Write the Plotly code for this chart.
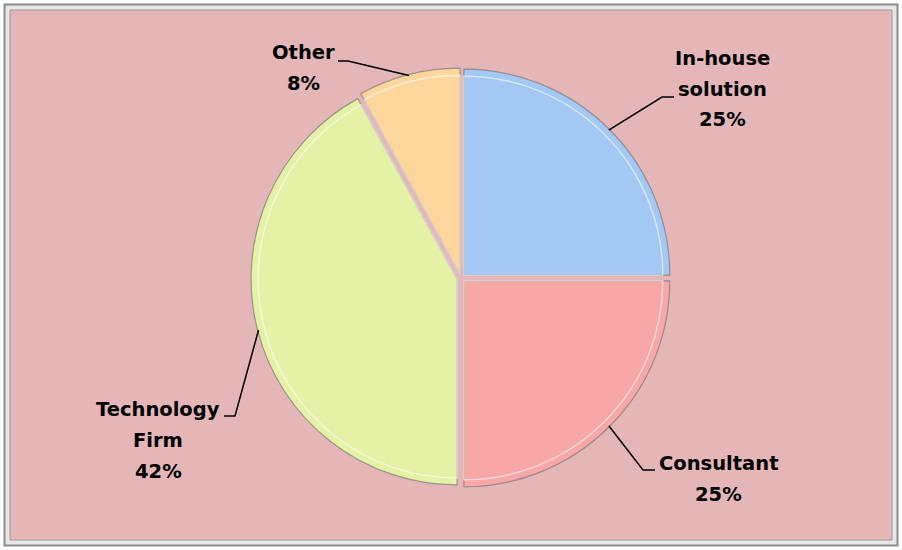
import math
import plotly.graph_objects as go

# ---- data ----
categories = ["In-house solution", "Consultant", "Technology Firm", "Other"]
label_lines = [["In-house", "solution"], ["Consultant"], ["Technology", "Firm"], ["Other"]]
values = [25, 25, 42, 8]
colors = ["#A3C8F4", "#F8A7A7", "#E4F1A6", "#FDD69E"]

# ---- layout constants (pixels) ----
W, H = 902, 550
CX, CY = 461, 278
HALF = 210
PULL = 0.02
ANCHOR_R = 209
LINE_GAP = 31
# label centre x, first line centre y, elbow point, end of horizontal stub
label_cfg = [
    dict(x=722, y=58, elbow=(662, 97), stub=(674, 97)),
    dict(x=718, y=463, elbow=(643, 470), stub=(655, 470)),
    dict(x=158, y=409, elbow=(235, 416), stub=(224, 416)),
    dict(x=303, y=53, elbow=(348, 61), stub=(338, 61)),
]


def px(x):
    return x / W


def py(y):
    return 1 - y / H


fig = go.Figure()
fig.add_trace(go.Pie(
    labels=categories, values=values, sort=False, direction="clockwise", rotation=0,
    pull=[PULL] * len(values), textinfo="none", hoverinfo="label+percent",
    marker=dict(colors=colors, line=dict(color="rgba(110,110,110,0.6)", width=1.2)),
    domain=dict(x=[px(CX - HALF), px(CX + HALF)], y=[py(CY + HALF), py(CY - HALF)]),
    showlegend=False,
))
# inner bevel rim
INSET = 7
fig.add_trace(go.Pie(
    labels=categories, values=values, sort=False, direction="clockwise", rotation=0,
    pull=[PULL] * len(values), textinfo="none", hoverinfo="skip",
    marker=dict(colors=["rgba(0,0,0,0)"] * len(values),
                line=dict(color="rgba(255,255,255,0.55)", width=1.5)),
    domain=dict(x=[px(CX - HALF + INSET), px(CX + HALF - INSET)],
                y=[py(CY + HALF - INSET), py(CY - HALF + INSET)]),
    showlegend=False,
))

shapes = [
    dict(type="rect", xref="paper", yref="paper", layer="below",
         x0=px(4.5), x1=px(897.5), y0=py(545.5), y1=py(4.5),
         line=dict(color="#8C8C8C", width=2), fillcolor="#E6E6E6"),
    dict(type="rect", xref="paper", yref="paper", layer="below",
         x0=px(10), x1=px(892), y0=py(540), y1=py(10),
         line=dict(color="#9A9A9A", width=1), fillcolor="#E4B6B7"),
]
annotations = []
total = sum(values)
cum = 0
for i, v in enumerate(values):
    mid = (cum + v / 2) / total * 2 * math.pi
    cum += v
    ax = CX + ANCHOR_R * math.sin(mid)
    ay = CY - ANCHOR_R * math.cos(mid)
    cfg = label_cfg[i]
    ex, ey = cfg["elbow"]
    sx, sy = cfg["stub"]
    path = f"M {px(ax)},{py(ay)} L {px(ex)},{py(ey)} L {px(sx)},{py(sy)}"
    shapes.append(dict(type="path", xref="paper", yref="paper", path=path,
                       line=dict(color="black", width=1.5)))
    lines = label_lines[i] + [f"{round(v / total * 100)}%"]
    for j, t in enumerate(lines):
        annotations.append(dict(
            x=px(cfg["x"]), y=py(cfg["y"] + j * LINE_GAP), xref="paper", yref="paper",
            text=t, showarrow=False, xanchor="center", yanchor="middle",
            font=dict(family="DejaVu Sans", size=19.5, color="black", weight="bold"),
        ))

fig.update_layout(
    width=W, height=H, margin=dict(l=0, r=0, t=0, b=0),
    paper_bgcolor="white", plot_bgcolor="white",
    shapes=shapes, annotations=annotations,
)
fig.write_html("out.html", config={"displayModeBar": False},
               post_script="document.body.style.margin='0';")
